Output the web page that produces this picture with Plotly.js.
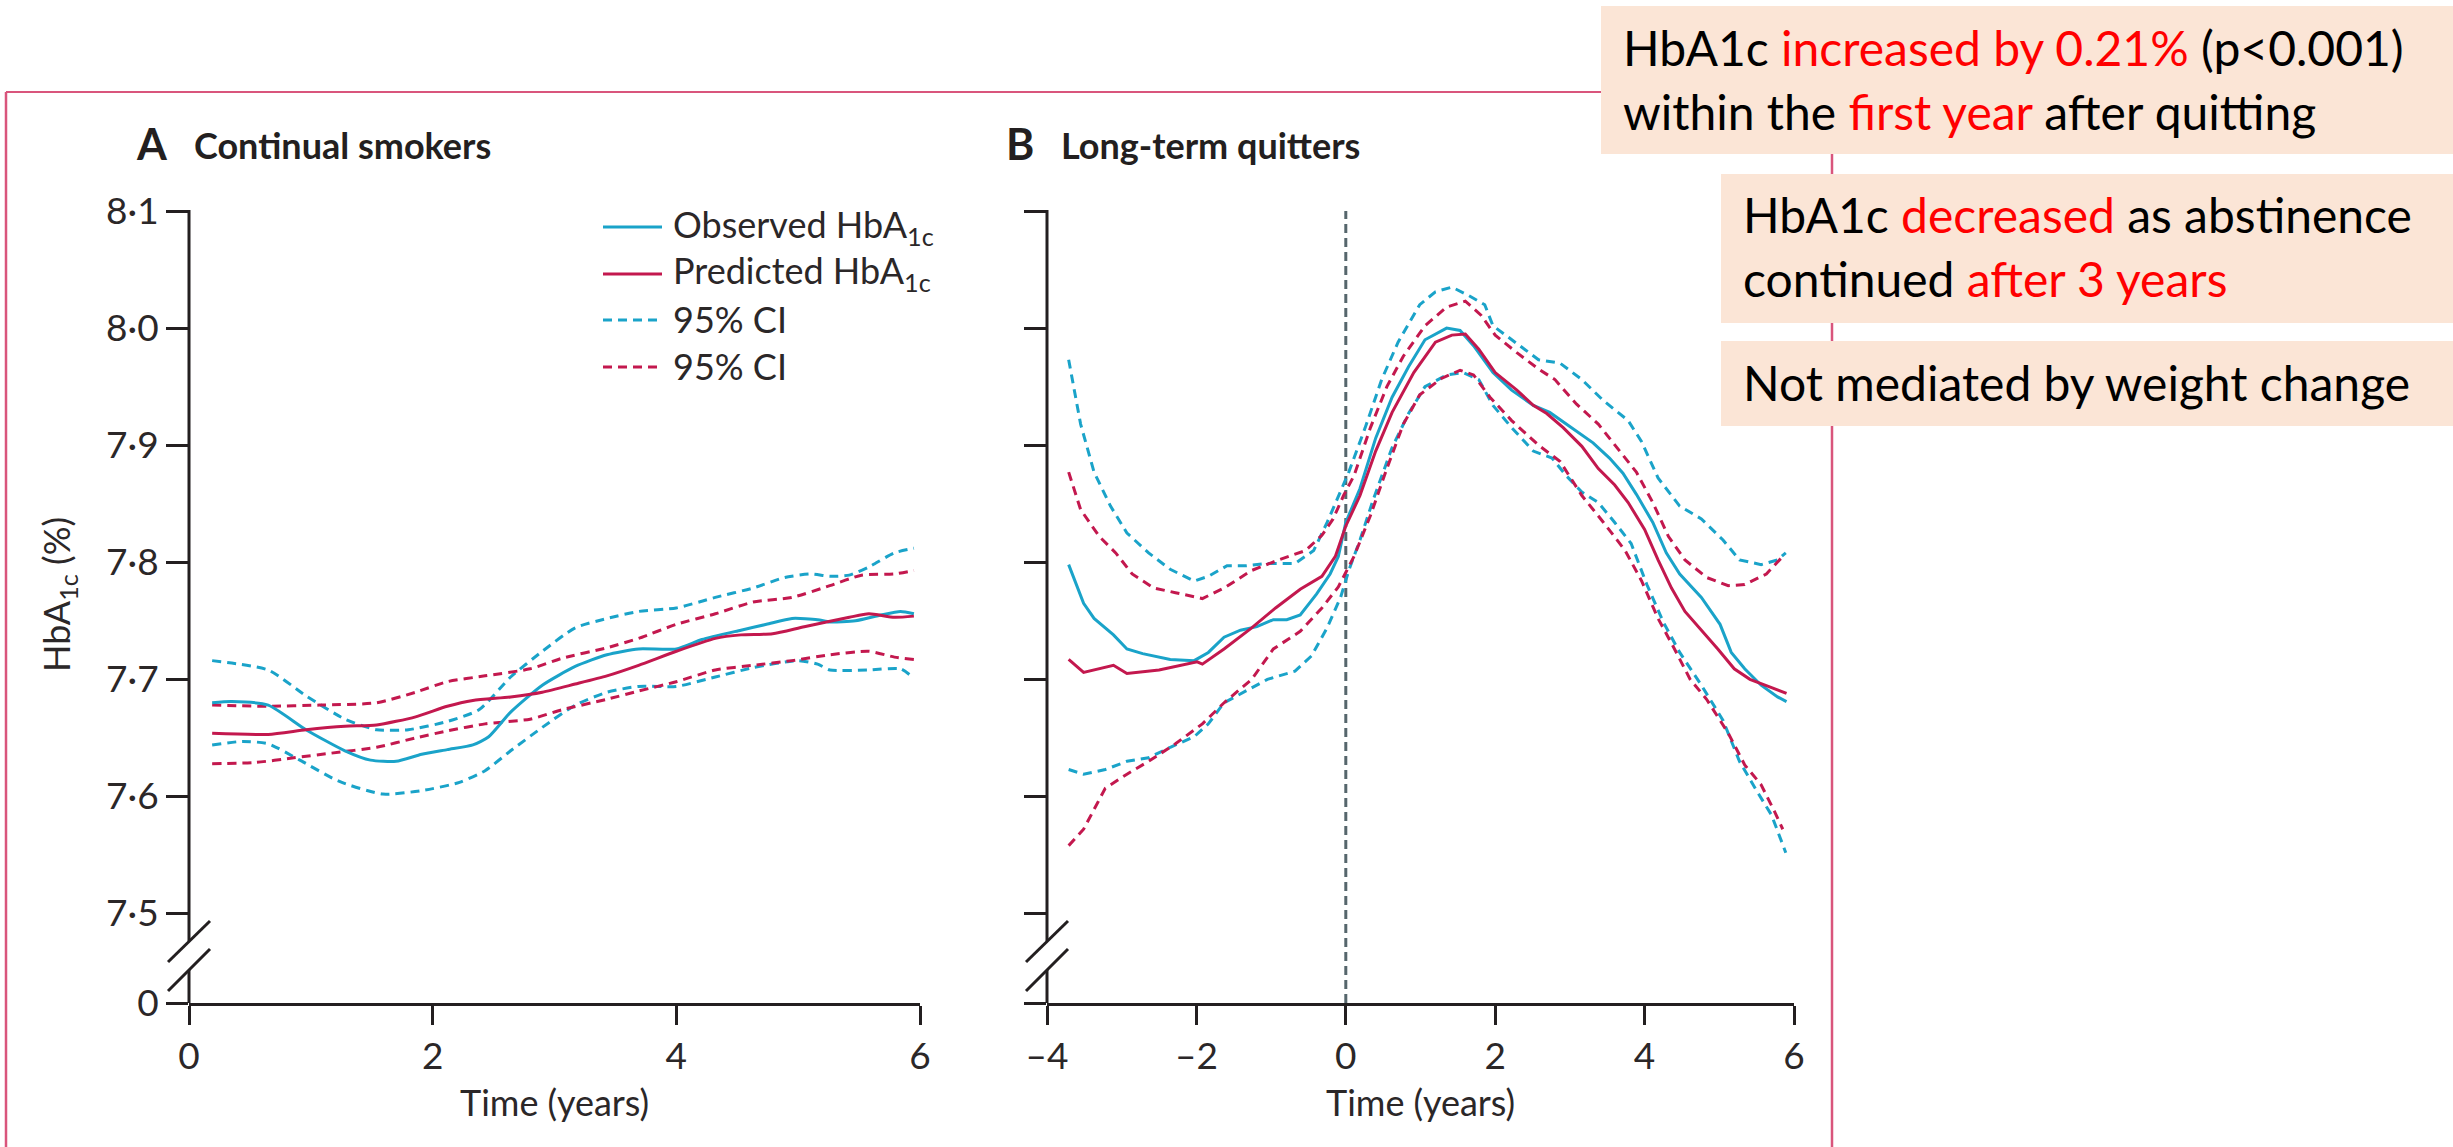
<!DOCTYPE html>
<html><head><meta charset="utf-8">
<script src="https://cdn.plot.ly/plotly-3.0.1.min.js"></script>
<style>html,body{margin:0;padding:0;background:#fff}#chart{width:2453px;height:1147px}</style>
</head><body><div id="chart"></div>
<script>
// ---------------- DATA ----------------
// Panel A: continual smokers (time in years, HbA1c %)
const tA_obs   = [0.19,0.35,0.65,0.96,1.28,1.49,1.70,1.91,2.12,2.33,2.46,2.64,2.90,3.17,3.43,3.69,4.00,4.21,4.53,4.74,4.95,5.16,5.26,5.47,5.68,5.84,5.95];
const vA_obs   = [7.680,7.681,7.678,7.657,7.639,7.631,7.630,7.636,7.640,7.644,7.651,7.672,7.695,7.711,7.721,7.726,7.726,7.734,7.742,7.747,7.752,7.751,7.749,7.750,7.755,7.758,7.756];
const tA_pred  = [0.19,0.65,0.96,1.28,1.54,1.86,2.12,2.33,2.64,2.90,3.17,3.43,3.69,4.00,4.32,4.53,4.79,5.05,5.42,5.58,5.79,5.95];
const vA_pred  = [7.654,7.653,7.657,7.660,7.661,7.668,7.677,7.682,7.685,7.689,7.696,7.703,7.712,7.724,7.735,7.738,7.739,7.745,7.753,7.756,7.753,7.754];
const tA_obsHi = [0.19,0.65,0.96,1.28,1.54,1.80,2.12,2.38,2.64,2.90,3.17,3.43,3.69,4.00,4.32,4.63,4.89,5.10,5.26,5.42,5.58,5.79,5.95];
const vA_obsHi = [7.716,7.708,7.686,7.666,7.657,7.657,7.664,7.674,7.702,7.724,7.744,7.752,7.758,7.761,7.770,7.778,7.787,7.790,7.788,7.789,7.796,7.808,7.812];
const tA_obsLo = [0.19,0.44,0.65,0.91,1.23,1.59,1.91,2.22,2.43,2.64,2.90,3.17,3.43,3.69,4.00,4.32,4.63,5.00,5.16,5.26,5.58,5.84,5.95];
const vA_obsLo = [7.644,7.647,7.645,7.631,7.613,7.602,7.605,7.612,7.622,7.639,7.659,7.678,7.689,7.694,7.694,7.702,7.710,7.716,7.713,7.708,7.708,7.709,7.701];
const tA_predHi= [0.19,0.65,1.07,1.54,1.86,2.12,2.43,2.80,3.06,3.43,3.69,4.00,4.32,4.63,4.95,5.26,5.52,5.79,5.95];
const vA_predHi= [7.678,7.677,7.678,7.680,7.689,7.698,7.703,7.709,7.718,7.727,7.735,7.747,7.756,7.766,7.770,7.780,7.789,7.790,7.793];
const tA_predLo= [0.19,0.545,0.86,1.17,1.54,1.86,2.12,2.43,2.80,3.06,3.43,3.69,4.00,4.32,4.63,4.95,5.26,5.58,5.79,5.95];
const vA_predLo= [7.628,7.629,7.633,7.637,7.642,7.650,7.656,7.662,7.666,7.674,7.683,7.690,7.698,7.708,7.712,7.716,7.721,7.724,7.719,7.717];

// Panel B: long-term quitters (time relative to quitting, years)
const tB_obs   = [-3.71,-3.51,-3.37,-3.11,-2.93,-2.72,-2.35,-2.03,-1.84,-1.63,-1.41,-1.19,-0.97,-0.79,-0.61,-0.39,-0.21,-0.10,0.00,0.19,0.40,0.62,0.84,1.06,1.35,1.53,1.71,1.97,2.22,2.51,2.73,2.95,3.16,3.31,3.53,3.71,3.89,4.11,4.29,4.47,4.76,5.01,5.16,5.34,5.56,5.78,5.90];
const vB_obs   = [7.798,7.765,7.752,7.738,7.726,7.722,7.717,7.716,7.723,7.736,7.742,7.745,7.751,7.751,7.755,7.773,7.790,7.805,7.834,7.863,7.906,7.941,7.967,7.990,8.000,7.998,7.985,7.962,7.947,7.934,7.928,7.918,7.909,7.902,7.889,7.876,7.858,7.834,7.808,7.790,7.770,7.747,7.723,7.709,7.695,7.685,7.681];
const tB_pred  = [-3.71,-3.51,-3.11,-2.93,-2.50,-2.21,-1.99,-1.92,-1.63,-1.26,-0.94,-0.61,-0.32,-0.14,0.00,0.19,0.40,0.62,0.91,1.20,1.42,1.60,1.78,2.00,2.29,2.51,2.69,2.91,3.16,3.38,3.60,3.78,4.00,4.18,4.36,4.54,4.76,4.98,5.20,5.41,5.70,5.90];
const vB_pred  = [7.717,7.706,7.712,7.705,7.708,7.712,7.715,7.713,7.726,7.744,7.761,7.777,7.788,7.805,7.831,7.857,7.895,7.928,7.962,7.988,7.994,7.995,7.982,7.962,7.947,7.934,7.927,7.915,7.899,7.880,7.866,7.851,7.828,7.802,7.778,7.758,7.742,7.726,7.709,7.700,7.693,7.688];
const tB_obsHi = [-3.71,-3.55,-3.37,-3.15,-2.93,-2.64,-2.35,-2.03,-1.84,-1.59,-1.34,-1.05,-0.68,-0.43,-0.25,-0.10,0.04,0.26,0.48,0.70,0.99,1.20,1.42,1.64,1.86,1.97,2.22,2.58,2.87,3.16,3.45,3.78,3.96,4.18,4.47,4.76,5.05,5.27,5.56,5.78,5.89];
const vB_obsHi = [7.973,7.918,7.877,7.848,7.825,7.808,7.794,7.784,7.788,7.797,7.797,7.799,7.799,7.810,7.834,7.857,7.877,7.915,7.956,7.988,8.020,8.031,8.035,8.028,8.020,8.002,7.990,7.973,7.970,7.956,7.938,7.921,7.903,7.872,7.848,7.837,7.819,7.802,7.798,7.802,7.808];
const tB_obsLo = [-3.71,-3.51,-3.22,-2.93,-2.64,-2.35,-2.03,-1.84,-1.63,-1.34,-1.05,-0.68,-0.46,-0.25,-0.07,0.04,0.19,0.37,0.62,0.84,1.06,1.35,1.57,1.78,1.97,2.22,2.51,2.76,2.95,3.16,3.38,3.60,3.82,4.03,4.25,4.47,4.76,5.05,5.27,5.48,5.70,5.89];
const vB_obsLo = [7.623,7.619,7.623,7.630,7.633,7.642,7.651,7.662,7.680,7.690,7.700,7.707,7.720,7.744,7.770,7.793,7.819,7.854,7.898,7.927,7.950,7.960,7.962,7.956,7.934,7.915,7.895,7.889,7.874,7.860,7.851,7.834,7.816,7.781,7.749,7.723,7.695,7.665,7.630,7.607,7.584,7.552];
const tB_predHi= [-3.71,-3.55,-3.30,-3.08,-2.86,-2.57,-2.28,-1.92,-1.63,-1.26,-0.90,-0.54,-0.32,-0.17,-0.03,0.11,0.33,0.55,0.77,1.06,1.35,1.60,1.81,2.00,2.29,2.58,2.80,3.09,3.38,3.67,3.89,4.11,4.32,4.54,4.83,5.12,5.34,5.63,5.85];
const vB_predHi= [7.877,7.845,7.822,7.808,7.790,7.778,7.774,7.769,7.778,7.793,7.802,7.810,7.823,7.837,7.857,7.874,7.915,7.950,7.976,8.002,8.018,8.023,8.011,7.994,7.979,7.965,7.956,7.935,7.918,7.895,7.877,7.851,7.822,7.802,7.787,7.780,7.781,7.790,7.805];
const tB_predLo= [-3.71,-3.51,-3.22,-2.93,-2.64,-2.28,-1.92,-1.63,-1.26,-0.97,-0.61,-0.32,-0.10,0.11,0.33,0.55,0.77,0.99,1.28,1.53,1.71,1.93,2.22,2.58,2.87,3.16,3.45,3.74,3.96,4.18,4.40,4.61,4.83,5.12,5.34,5.56,5.74,5.85];
const vB_predLo= [7.558,7.572,7.607,7.619,7.630,7.645,7.662,7.680,7.700,7.726,7.741,7.761,7.779,7.805,7.840,7.880,7.918,7.943,7.957,7.964,7.960,7.941,7.921,7.900,7.886,7.857,7.834,7.810,7.784,7.752,7.726,7.700,7.683,7.654,7.627,7.610,7.587,7.572];

// Axis ticks (the "0" tick sits below the axis break)
const yZero      = 7.4236;
const yTickVals  = [yZero, 7.5, 7.6, 7.7, 7.8, 7.9, 8.0, 8.1];
const yTickText  = ["0", "7·5", "7·6", "7·7", "7·8", "7·9", "8·0", "8·1"];
const xTickValsA = [0, 2, 4, 6];
const xTickTextA = ["0", "2", "4", "6"];
const xTickValsB = [-4, -2, 0, 2, 4, 6];
const xTickTextB = ["\u20134", "\u20132", "0", "2", "4", "6"];

// Texts
const legendLabels = ["Observed HbA<sub>1c</sub>", "Predicted HbA<sub>1c</sub>", "95% CI", "95% CI"];
const panelTitles = [["A", "Continual smokers"], ["B", "Long-term quitters"]];
const xTitle = "Time (years)";
const yTitle = "HbA<sub>1c</sub> (%)";
const RED = "#FF0000";
const boxLines = [
  'HbA1c <span style="color:' + RED + '">increased by 0.21%</span> (p&lt;0.001)',
  'within the <span style="color:' + RED + '">first year</span> after quitting',
  'HbA1c <span style="color:' + RED + '">decreased</span> as abstinence',
  'continued <span style="color:' + RED + '">after 3 years</span>',
  'Not mediated by weight change'
];

// ---------------- STYLE / LAYOUT ----------------
const W = 2453, H = 1147;
const px = x => x / W, py = y => 1 - y / H;
const CYAN = "#1aa3c9", CRIMSON = "#c3184e", INK = "#231f20", FRAME = "#d9557c";
const DASH = "9px,6px";
const FONT = 'Lato, "Open Sans", sans-serif';

function tr(x, y, xa, ya, color, dash, shape) {
  return {type: 'scatter', mode: 'lines', x: x, y: y, xaxis: xa, yaxis: ya,
    line: {color: color, width: 3, dash: dash, shape: shape, smoothing: 0.6},
    hoverinfo: 'skip', showlegend: false};
}
const traces = [
  tr(tA_obsHi, vA_obsHi, 'x', 'y', CYAN, DASH, 'spline'),
  tr(tA_obsLo, vA_obsLo, 'x', 'y', CYAN, DASH, 'spline'),
  tr(tA_predHi, vA_predHi, 'x', 'y', CRIMSON, DASH, 'spline'),
  tr(tA_predLo, vA_predLo, 'x', 'y', CRIMSON, DASH, 'spline'),
  tr(tA_obs, vA_obs, 'x', 'y', CYAN, 'solid', 'spline'),
  tr(tA_pred, vA_pred, 'x', 'y', CRIMSON, 'solid', 'spline'),
  tr(tB_obsHi, vB_obsHi, 'x2', 'y2', CYAN, DASH, 'linear'),
  tr(tB_obsLo, vB_obsLo, 'x2', 'y2', CYAN, DASH, 'linear'),
  tr(tB_predHi, vB_predHi, 'x2', 'y2', CRIMSON, DASH, 'linear'),
  tr(tB_predLo, vB_predLo, 'x2', 'y2', CRIMSON, DASH, 'linear'),
  tr(tB_obs, vB_obs, 'x2', 'y2', CYAN, 'solid', 'linear'),
  tr(tB_pred, vB_pred, 'x2', 'y2', CRIMSON, 'solid', 'linear')
];

const tickFont = {family: FONT, size: 37, color: '#2b2728'};
function xax(dom, range, vals, text, anchor) {
  return {domain: dom, range: range, anchor: anchor, tickmode: 'array', tickvals: vals, ticktext: text,
    ticks: 'outside', ticklen: 19, tickwidth: 3, tickcolor: INK, showline: true, linecolor: INK, linewidth: 3,
    showgrid: false, zeroline: false, tickfont: tickFont, fixedrange: true};
}
function yax(anchor, labels) {
  return {domain: [py(1003), py(211)], range: [yZero - 1e-6, 8.1 + 1e-6], anchor: anchor, tickmode: 'array',
    tickvals: yTickVals, ticktext: yTickText, showticklabels: labels,
    ticks: 'outside', ticklen: 22, tickwidth: 3, tickcolor: INK, showline: false,
    showgrid: false, zeroline: false, tickfont: tickFont, fixedrange: true};
}

function seg(x0, y0, x1, y1, color, width, dash) {
  return {type: 'line', xref: 'paper', yref: 'paper', x0: px(x0), y0: py(y0), x1: px(x1), y1: py(y1),
    line: {color: color, width: width, dash: dash || 'solid'}};
}
const shapes = [];
// frame
shapes.push(seg(6, 92, 1832, 92, FRAME, 2));
shapes.push(seg(6, 92, 6, 1147, FRAME, 2.5));
shapes.push(seg(1832, 92, 1832, 1147, FRAME, 2.5));
// annotation boxes
[[1601, 6, 2453, 154], [1721, 174, 2453, 323], [1721, 341, 2453, 426]].forEach(b => {
  shapes.push({type: 'rect', xref: 'paper', yref: 'paper', x0: px(b[0]), y0: py(b[1]), x1: px(b[2]), y1: py(b[3]),
    fillcolor: '#FBE5D6', line: {width: 0}});
});
// broken y axes + slashes
[189, 1047].forEach(ax => {
  shapes.push(seg(ax, 210, ax, 941, INK, 3));
  shapes.push(seg(ax, 970, ax, 1003, INK, 3));
  shapes.push(seg(ax - 21, 962, ax + 21, 921, INK, 3));
  shapes.push(seg(ax - 21, 991, ax + 21, 949, INK, 3));
});
// quitting reference line (x = 0 in panel B)
shapes.push({type: 'line', xref: 'x2', yref: 'paper', x0: 0, x1: 0, y0: py(1003), y1: py(211),
  line: {color: '#56666c', width: 3, dash: '9px,5px'}, layer: 'below'});
// legend samples
const legStyles = [[CYAN, 'solid'], [CRIMSON, 'solid'], [CYAN, DASH], [CRIMSON, DASH]];
const legY = [227, 274, 320, 367];
legStyles.forEach((s, i) => shapes.push(seg(603, legY[i], 662, legY[i], s[0], 3, s[1])));

function ann(text, x, y, opts) {
  return Object.assign({text: text, x: px(x), y: py(y), xref: 'paper', yref: 'paper', showarrow: false,
    xanchor: 'left', yanchor: 'middle', borderpad: 0, borderwidth: 0,
    font: {family: FONT, size: 36, color: '#2b2728'}}, opts || {});
}
const annotations = [];
legendLabels.forEach((t, i) => annotations.push(ann(t, 673, legY[i] - 1)));
const titleFont = {family: FONT, size: 36, color: INK, weight: 700};
annotations.push(ann('<b>' + panelTitles[0][0] + '</b>', 136, 144, {font: Object.assign({}, titleFont, {size: 43})}));
annotations.push(ann('<b>' + panelTitles[0][1] + '</b>', 194, 145, {font: titleFont}));
annotations.push(ann('<b>' + panelTitles[1][0] + '</b>', 1006, 144, {font: Object.assign({}, titleFont, {size: 43})}));
annotations.push(ann('<b>' + panelTitles[1][1] + '</b>', 1061, 145, {font: titleFont}));
annotations.push(ann(xTitle, 554, 1102, {xanchor: 'center'}));
annotations.push(ann(xTitle, 1420, 1102, {xanchor: 'center'}));
annotations.push(ann(yTitle, 58, 595, {xanchor: 'center', textangle: -90}));
const boxFont = {family: FONT, size: 48, color: '#000000'};
[[1623, 48], [1623, 112], [1743, 215], [1743, 279], [1743, 382]].forEach((p, i) => {
  annotations.push(ann(boxLines[i], p[0], p[1], {font: boxFont}));
});

const layout = {
  width: W, height: H, margin: {l: 0, r: 0, t: 0, b: 0, pad: 0},
  paper_bgcolor: '#ffffff', plot_bgcolor: 'rgba(0,0,0,0)', showlegend: false,
  xaxis: xax([px(189), px(920)], [0, 6], xTickValsA, xTickTextA, 'y'),
  yaxis: yax('x', true),
  xaxis2: xax([px(1047), px(1794)], [-4, 6], xTickValsB, xTickTextB, 'y2'),
  yaxis2: yax('x2', false),
  shapes: shapes, annotations: annotations
};
Plotly.newPlot('chart', traces, layout, {staticPlot: true, displayModeBar: false});
</script></body></html>
